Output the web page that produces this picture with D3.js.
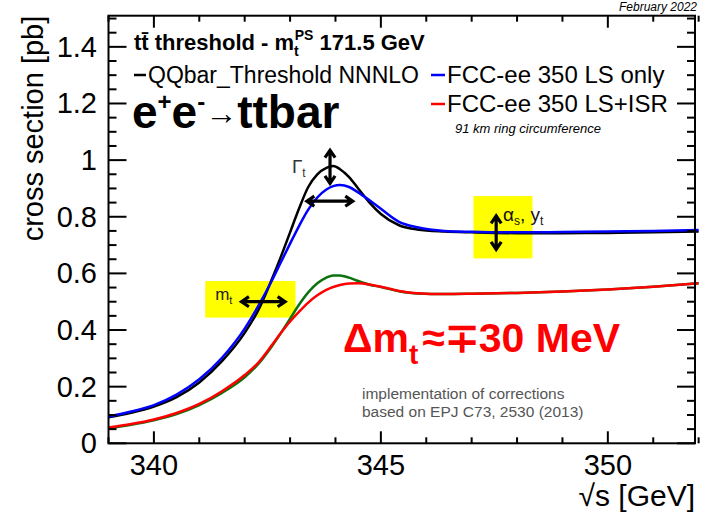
<!DOCTYPE html>
<html>
<head>
<meta charset="utf-8">
<script src="https://cdn.jsdelivr.net/npm/d3@7"></script>
<style>
  body { margin: 0; background: #fff; }
  text { font-family: 'Liberation Sans', Arial, sans-serif; }
</style>
</head>
<body>
<div id="chart"></div>
<script>
// centre-of-mass energy grid [GeV]
const sqrtS = [339, 339.5, 340, 340.5, 341, 341.5, 342, 342.3, 342.6, 342.8, 343, 343.2, 343.4, 343.6, 343.8, 343.95,
  344.1, 344.3, 344.5, 344.75, 345, 345.4, 345.8, 346.4, 347, 348, 349, 350, 351, 352]

// cross sections [pb]
const xsQQbar = [0.092, 0.108, 0.13, 0.163, 0.215, 0.29, 0.39, 0.47, 0.58, 0.66, 0.745, 0.83, 0.905, 0.95, 0.973, 0.979,
  0.968, 0.94, 0.90, 0.85, 0.81, 0.77, 0.755, 0.748, 0.745, 0.742, 0.742, 0.743, 0.745, 0.748]
const xsLSonly = [0.094, 0.112, 0.135, 0.172, 0.226, 0.302, 0.405, 0.485, 0.575, 0.64, 0.705, 0.768, 0.825, 0.868, 0.896, 0.908,
  0.912, 0.905, 0.886, 0.858, 0.828, 0.782, 0.763, 0.75, 0.747, 0.745, 0.746, 0.748, 0.75, 0.753]
const xsLSISR = [0.056, 0.068, 0.084, 0.107, 0.139, 0.184, 0.241, 0.285, 0.347, 0.39, 0.43, 0.465, 0.497, 0.523, 0.542, 0.552,
  0.559, 0.564, 0.565, 0.561, 0.553, 0.538, 0.53, 0.527, 0.528, 0.531, 0.536, 0.543, 0.553, 0.565]
const xsISRgreen = [0.053, 0.065, 0.081, 0.103, 0.135, 0.178, 0.233, 0.28, 0.343, 0.39, 0.44, 0.49, 0.533, 0.565, 0.585, 0.593,
  0.593, 0.585, 0.573, 0.56, 0.552, 0.537, 0.529, 0.527, 0.528, 0.531, 0.536, 0.543, 0.553, 0.565]

const xTicks = [340, 345, 350]
const yTicks = [0, 0.2, 0.4, 0.6, 0.8, 1, 1.2, 1.4]

const W = 705, H = 512
const frame = { left: 108.5, right: 695, top: 15.7, bottom: 443.3 }

const svg = d3.select('#chart').append('svg')
  .attr('width', W)
  .attr('height', H)

const x = d3.scaleLinear().domain([339, 351.92]).range([frame.left, frame.right])
const y = d3.scaleLinear().domain([0, 1.51]).range([frame.bottom, frame.top])

// yellow boxes behind everything
svg.append('rect')
  .attr('x', x(341.13)).attr('y', y(0.573))
  .attr('width', x(343.12) - x(341.13)).attr('height', y(0.444) - y(0.573))
  .attr('fill', '#ffff00')
svg.append('rect')
  .attr('x', x(347.04)).attr('y', y(0.873))
  .attr('width', x(348.34) - x(347.04)).attr('height', y(0.653) - y(0.873))
  .attr('fill', '#ffff00')

// curves
const line = d3.line()
  .x((d, i) => x(sqrtS[i]))
  .y(d => y(d))
  .curve(d3.curveMonotoneX)

const series = [
  { v: xsISRgreen, c: '#0c720c' },
  { v: xsLSISR, c: '#ff0000' },
  { v: xsQQbar, c: '#000000' },
  { v: xsLSonly, c: '#0000ff' },
]
series.forEach(s => {
  svg.append('path')
    .attr('d', line(s.v))
    .attr('fill', 'none')
    .attr('stroke', s.c)
    .attr('stroke-width', 2.5)
})

// frame
svg.append('rect')
  .attr('x', frame.left).attr('y', frame.top)
  .attr('width', frame.right - frame.left).attr('height', frame.bottom - frame.top)
  .attr('fill', 'none').attr('stroke', '#000').attr('stroke-width', 2)

// ticks on all four sides (mirrored, pointing inside)
const g = svg.append('g').attr('stroke', '#000').attr('stroke-width', 2)
d3.range(339, 352.01, 1).forEach(v => {
  const len = v % 5 === 0 ? 12 : 6
  g.append('line').attr('x1', x(v)).attr('x2', x(v)).attr('y1', frame.bottom).attr('y2', frame.bottom - len)
  g.append('line').attr('x1', x(v)).attr('x2', x(v)).attr('y1', frame.top).attr('y2', frame.top + len)
})
d3.range(0, 31).map(i => i * 0.05).filter(v => v <= 1.51).forEach((v, i) => {
  const len = i % 4 === 0 ? 18 : 8
  g.append('line').attr('y1', y(v)).attr('y2', y(v)).attr('x1', frame.left).attr('x2', frame.left + len)
  g.append('line').attr('y1', y(v)).attr('y2', y(v)).attr('x1', frame.right).attr('x2', frame.right - len)
})

// tick labels
svg.selectAll('.xl').data(xTicks).enter().append('text')
  .attr('x', d => x(d)).attr('y', 475)
  .attr('text-anchor', 'middle')
  .attr('font-size', 29)
  .text(d => d)
svg.selectAll('.yl').data(yTicks).enter().append('text')
  .attr('x', 97).attr('y', d => y(d) + 10)
  .attr('text-anchor', 'end')
  .attr('font-size', 29)
  .text(d => d)

// axis titles
svg.append('text')
  .attr('x', frame.right).attr('y', 506)
  .attr('text-anchor', 'end')
  .attr('font-size', 30)
  .text('\u221As [GeV]')
svg.append('text')
  .attr('transform', `translate(43,${frame.top}) rotate(-90)`)
  .attr('text-anchor', 'end')
  .attr('font-size', 29)
  .text('cross section [pb]')

// date
svg.append('text')
  .attr('x', 697).attr('y', 11)
  .attr('text-anchor', 'end')
  .attr('font-size', 12).attr('font-style', 'italic')
  .text('February 2022')

// title
const title = svg.append('text').attr('x', 134).attr('y', 50)
  .attr('font-size', 22).attr('font-weight', 'bold')
title.append('tspan').text('tt\u0304 threshold - m')
title.append('tspan').attr('font-size', 14).attr('dy', 6).text('t')
title.append('tspan').attr('font-size', 14).attr('dx', -4).attr('dy', -16).text('PS')
title.append('tspan').attr('dy', 10).text(' 171.5 GeV')

// legend
svg.append('line').attr('x1', 134).attr('x2', 146).attr('y1', 75).attr('y2', 75)
  .attr('stroke', '#000').attr('stroke-width', 2.5)
svg.append('text').attr('x', 148).attr('y', 83).attr('font-size', 23)
  .text('QQbar_Threshold NNNLO')
svg.append('line').attr('x1', 431).attr('x2', 445).attr('y1', 75).attr('y2', 75)
  .attr('stroke', '#0000ff').attr('stroke-width', 2.5)
svg.append('text').attr('x', 447).attr('y', 83).attr('font-size', 24)
  .text('FCC-ee 350 LS only')
svg.append('line').attr('x1', 431).attr('x2', 445).attr('y1', 104).attr('y2', 104)
  .attr('stroke', '#ff0000').attr('stroke-width', 2.5)
svg.append('text').attr('x', 447).attr('y', 112).attr('font-size', 24)
  .text('FCC-ee 350 LS+ISR')
svg.append('text').attr('x', 455).attr('y', 133).attr('font-size', 13).attr('font-style', 'italic')
  .text('91 km ring circumference')

// process label
const proc = svg.append('text').attr('x', 132).attr('y', 128)
  .attr('font-family', "'Liberation Sans Narrow','DejaVu Sans Condensed',sans-serif")
  .attr('font-size', 46).attr('font-weight', 'bold')
proc.append('tspan').text('e')
proc.append('tspan').attr('font-size', 24).attr('dy', -18).text('+')
proc.append('tspan').attr('dy', 18).text('e')
proc.append('tspan').attr('font-size', 24).attr('dy', -18).text('-')
proc.append('tspan').attr('font-size', 32).attr('font-weight', 'normal').attr('dy', 14).text('\u2192')
proc.append('tspan').attr('dy', 4).text('ttbar')

// arrows
function doubleArrow(x1, y1, x2, y2) {
  const a = Math.atan2(y2 - y1, x2 - x1), h = 9, w = 0.6
  const head = (px, py, ang) => `M${px - h * Math.cos(ang - w)} ${py - h * Math.sin(ang - w)}L${px} ${py}L${px - h * Math.cos(ang + w)} ${py - h * Math.sin(ang + w)}`
  svg.append('path')
    .attr('d', `M${x1} ${y1}L${x2} ${y2}` + head(x2, y2, a) + head(x1, y1, a + Math.PI))
    .attr('fill', 'none').attr('stroke', '#000').attr('stroke-width', 3.2)
}
doubleArrow(x(341.93), y(0.5), x(342.89), y(0.5))
doubleArrow(x(347.54), y(0.803), x(347.54), y(0.685))
doubleArrow(x(343.88), y(1.035), x(343.88), y(0.918))
doubleArrow(x(343.37), y(0.855), x(344.38), y(0.855))

// annotation labels
const mt = svg.append('text').attr('x', x(341.35)).attr('y', y(0.506)).attr('font-size', 17).attr('fill', '#222')
mt.append('tspan').text('m')
mt.append('tspan').attr('font-size', 11).attr('dy', 4).text('t')

const gt = svg.append('text').attr('x', x(343.04)).attr('y', y(0.954))
  .attr('font-family', "'Liberation Serif','DejaVu Serif',serif").attr('font-size', 19).attr('fill', '#333')
gt.append('tspan').text('\u0393')
gt.append('tspan').attr('font-size', 12).attr('dy', 4).text('t')

const as = svg.append('text').attr('x', x(347.69)).attr('y', y(0.785))
  .attr('font-family', "'Liberation Serif','DejaVu Serif',serif").attr('font-size', 19).attr('fill', '#111')
as.append('tspan').text('\u03b1')
as.append('tspan').attr('font-size', 12).attr('dy', 4).text('s')
as.append('tspan').attr('dy', -4).text(', y')
as.append('tspan').attr('font-size', 12).attr('dy', 4).text('t')

const dm = svg.append('text').attr('x', 343).attr('y', 352)
  .attr('font-size', 41).attr('font-weight', 'bold').attr('fill', '#ff0000')
dm.append('tspan').text('\u0394m')
dm.append('tspan').attr('font-size', 28).attr('dy', 12).text('t')
dm.append('tspan').attr('dx', 4).attr('dy', -12).text('\u2248\u221330 MeV')

svg.append('text').attr('x', 362).attr('y', 399).attr('font-size', 15.5).attr('fill', '#555')
  .text('implementation of corrections')
svg.append('text').attr('x', 362).attr('y', 417).attr('font-size', 15.5).attr('fill', '#555')
  .text('based on EPJ C73, 2530 (2013)')
</script>
</body>
</html>
